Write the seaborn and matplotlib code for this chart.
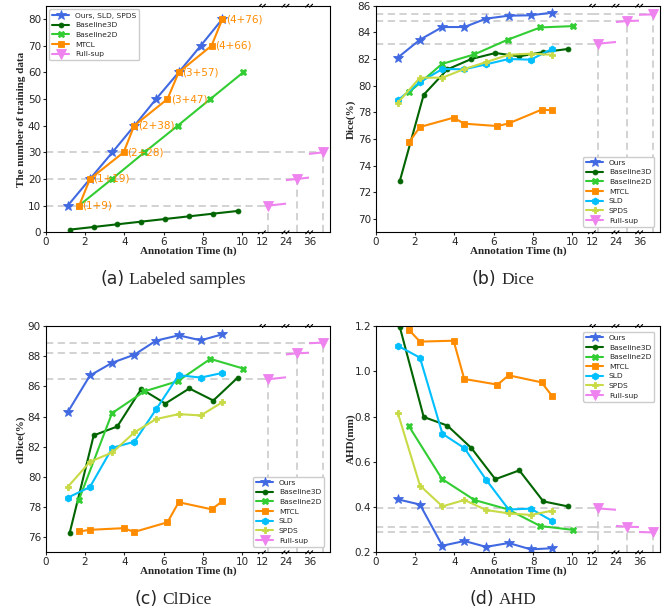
import matplotlib
matplotlib.use("Agg")
import matplotlib.pyplot as plt
import seaborn as sns

# ---- annotation time (h) of every setting ----
t_ours = [1.12, 2.25, 3.39, 4.51, 5.61, 6.76, 7.88, 8.98]   # also SLD / SPDS
t_b3d = [1.22, 2.44, 3.64, 4.86, 6.08, 7.30, 8.52, 9.76]
t_b2d = [1.69, 3.37, 5.02, 6.71, 8.37, 10.04]
t_mtcl = [1.70, 2.25, 3.96, 4.50, 6.19, 6.76, 8.43, 8.98]
t_full = [12.3, 24.55, 36.7]

# ---- (a) number of labeled training samples ----
n_ours = [10, 20, 30, 40, 50, 60, 70, 80]
n_b3d = [1, 2, 3, 4, 5, 6, 7, 8]
n_b2d = [10, 20, 30, 40, 50, 60]
n_mtcl = [10, 20, 30, 40, 50, 60, 70, 80]
n_full = [10, 20, 30]
mtcl_split = ["(1+9)", "(1+19)", "(2+28)", "(2+38)", "(3+47)", "(3+57)", "(4+66)", "(4+76)"]

# ---- (b) Dice (%) ----
dice_ours = [82.10, 83.45, 84.40, 84.40, 85.03, 85.25, 85.28, 85.48]
dice_b3d = [72.82, 79.32, 81.22, 82.00, 82.45, 82.20, 82.52, 82.75]
dice_b2d = [79.50, 81.63, 82.35, 83.45, 84.37, 84.47]
dice_mtcl = [75.77, 76.90, 77.60, 77.15, 76.97, 77.17, 78.20, 78.15]
dice_sld = [78.90, 80.27, 81.25, 81.23, 81.60, 82.00, 81.95, 82.77]
dice_spds = [78.72, 80.60, 80.60, 81.25, 81.77, 82.32, 82.40, 82.32]
dice_full = [83.15, 84.85, 85.35]

# ---- (c) clDice (%) ----
cl_ours = [84.29, 86.72, 87.57, 88.10, 89.03, 89.38, 89.05, 89.45]
cl_b3d = [76.29, 82.75, 83.34, 85.83, 84.86, 85.86, 85.06, 86.58]
cl_b2d = [78.49, 84.22, 85.67, 86.34, 87.82, 87.18]
cl_mtcl = [76.38, 76.49, 76.60, 76.35, 76.99, 78.32, 77.85, 78.38]
cl_sld = [78.62, 79.33, 81.93, 82.33, 84.47, 86.74, 86.58, 86.89]
cl_spds = [79.33, 81.00, 81.62, 82.95, 83.83, 84.16, 84.07, 84.95]
cl_full = [86.47, 88.19, 88.90]

# ---- (d) AHD (mm) ----
ahd_ours = [0.434, 0.411, 0.229, 0.250, 0.224, 0.241, 0.213, 0.218]
ahd_b3d = [1.197, 0.798, 0.760, 0.661, 0.523, 0.562, 0.425, 0.403]
ahd_b2d = [0.757, 0.524, 0.431, 0.390, 0.316, 0.299]
ahd_mtcl = [1.182, 1.131, 1.135, 0.966, 0.941, 0.982, 0.951, 0.889]
ahd_sld = [1.113, 1.060, 0.724, 0.660, 0.521, 0.389, 0.393, 0.338]
ahd_spds = [0.817, 0.495, 0.403, 0.431, 0.387, 0.372, 0.365, 0.384]
ahd_full = [0.394, 0.313, 0.288]

STY = {
    "Ours": dict(color="royalblue", marker="*", ms=7.5),
    "Baseline3D": dict(color="darkgreen", marker="o", ms=3.5),
    "Baseline2D": dict(color="limegreen", marker="X", ms=5),
    "MTCL": dict(color="darkorange", marker="s", ms=4.5),
    "SLD": dict(color="deepskyblue", marker="h", ms=5),
    "SPDS": dict(color="#c8da45", marker="P", ms=5),
    "Full-sup": dict(color="violet", marker="v", ms=6.5),
}

sns.set_style("ticks")
plt.rcParams["font.family"] = ["DejaVu Sans"]
plt.rcParams["xtick.labelsize"] = 7.5
plt.rcParams["ytick.labelsize"] = 7.5
plt.rcParams["xtick.major.size"] = 2.2
plt.rcParams["ytick.major.size"] = 2.2
plt.rcParams["xtick.major.pad"] = 1.2
plt.rcParams["ytick.major.pad"] = 1.2
plt.rcParams["axes.edgecolor"] = "black"

W, H = 664, 613
fig = plt.figure(figsize=(W / 100, H / 100), dpi=100)

SEGS = [(0, 11), (12, 13.2), (24, 25.2), (36, 37.05)]
GUIDE = dict(color="#cfcfcf", lw=1.3, linestyle=(0, (4, 2.5)), zorder=0)


def px_rect(l, t, r, b):
    return [l / W, 1 - b / H, (r - l) / W, (b - t) / H]


def draw(ax, key, x, y, label=None):
    s = STY[key]
    sns.lineplot(x=x, y=y, ax=ax, color=s["color"], marker=s["marker"], markersize=s["ms"],
                 markeredgewidth=0.6, markeredgecolor=s["color"], linewidth=1.5,
                 label=label, legend=False, sort=False)


def panel(l, t, r, b, series, full, ylim, yticks, ylabel, tag, name, loc):
    total = sum(hi - lo for lo, hi in SEGS)
    x0 = l
    axes = []
    for i, (lo, hi) in enumerate(SEGS):
        w = (r - l) * (hi - lo) / total
        ax = fig.add_axes(px_rect(x0, t, x0 + w, b))
        x0 += w
        ax.set_xlim(lo, hi)
        ax.set_ylim(*ylim)
        axes.append(ax)
    main = axes[0]
    for key, x, y, lab in series:
        draw(main, key, x, y, lab)
    draw(main, "Full-sup", t_full, full, "Full-sup")
    main.set_xlim(*SEGS[0])
    main.set_ylim(*ylim)
    main.set_xticks([0, 2, 4, 6, 8, 10])
    main.set_yticks(yticks)
    for v in full:
        main.axhline(v, **GUIDE)
    for ax, (lo, hi) in zip(axes[1:], SEGS[1:]):
        draw(ax, "Full-sup", t_full, full)
        ax.set_xlim(lo, hi)
        ax.set_ylim(*ylim)
        for tt, v in zip(t_full, full):
            if tt > lo:
                ax.hlines(v, lo, min(tt, hi), **GUIDE)
            if lo <= tt <= hi:
                ax.vlines(tt, ylim[0], v, **GUIDE)
        ax.set_xticks([lo])
        ax.set_xticklabels([str(lo)])
        ax.set_yticks([])
        ax.spines["left"].set_visible(False)
        ax.tick_params(axis="x", length=0, pad=1.2 + 2.2)
    for ax in axes[:-1]:
        ax.spines["right"].set_visible(False)
    # break marks
    d = 3.0
    for ax in axes[1:]:
        bb = ax.get_position()
        wpx, hpx = bb.width * W, bb.height * H
        for yy in (0, 1):
            for off in (-2.2, 1.8):
                ax.plot([(off - d / 2) / wpx, (off + d / 2) / wpx],
                        [yy - d / 2 / hpx, yy + d / 2 / hpx],
                        transform=ax.transAxes, color="black", lw=0.8, clip_on=False)
    leg = main.legend(loc=loc, fontsize=5.4, framealpha=1, borderpad=0.4,
                      handlelength=2.2, labelspacing=0.45)
    if loc == "lower right":
        leg.set_bbox_to_anchor(px_rect(l, t, r - 2, b - 2), transform=fig.transFigure)
    elif loc == "upper right":
        leg.set_bbox_to_anchor(px_rect(l, t + 2, r - 2, b), transform=fig.transFigure)
    leg.set_zorder(10)
    main.set_zorder(5)
    # labels
    cy = (t + b) / 2
    fig.text((l - 24.7) / W, 1 - cy / H, ylabel, rotation=90, ha="center", va="center",
             fontsize=8, fontweight="bold", family="Liberation Serif")
    fig.text(((l + r) / 2) / W, 1 - (b + 18.5) / H, "Annotation Time (h)", ha="center",
             va="center", fontsize=8, fontweight="bold", family="Liberation Serif")
    rend = fig.canvas.get_renderer()
    t1 = fig.text(0, 1 - (b + 52) / H, tag, fontsize=12.5, family="DejaVu Sans", va="baseline")
    t2 = fig.text(0, 1 - (b + 52) / H, name, fontsize=12.5, family="Liberation Serif", va="baseline")
    w1 = t1.get_window_extent(rend).width
    w2 = t2.get_window_extent(rend).width
    gap = 5
    cx = (l + r) / 2 - 15
    start = cx - (w1 + gap + w2) / 2
    t1.set_x(start / W)
    t2.set_x((start + w1 + gap) / W)
    return main


# (a)
ax_a = panel(45.7, 5.7, 330, 232.3,
             [("Ours", t_ours, n_ours, "Ours, SLD, SPDS"),
              ("Baseline3D", t_b3d, n_b3d, "Baseline3D"),
              ("Baseline2D", t_b2d, n_b2d, "Baseline2D"),
              ("MTCL", t_mtcl, n_mtcl, "MTCL")],
             n_full, (0, 85), range(0, 81, 10), "The number of training data",
             "(a)", "Labeled samples", "upper left")
for x, y, s in zip(t_mtcl, n_mtcl, mtcl_split):
    ax_a.annotate(s, (x, y), xytext=(2.5, 0), textcoords="offset points", va="center",
                  ha="left", fontsize=7.5, color="darkorange")

seven = lambda o, b3, b2, m, sl, sp: [
    ("Ours", t_ours, o, "Ours"), ("Baseline3D", t_b3d, b3, "Baseline3D"),
    ("Baseline2D", t_b2d, b2, "Baseline2D"), ("MTCL", t_mtcl, m, "MTCL"),
    ("SLD", t_ours, sl, "SLD"), ("SPDS", t_ours, sp, "SPDS")]

# (b)
panel(375.7, 5.7, 660, 232.3, seven(dice_ours, dice_b3d, dice_b2d, dice_mtcl, dice_sld, dice_spds),
      dice_full, (69, 86), range(70, 87, 2), "Dice(%)", "(b)", "Dice", "lower right")
# (c)
panel(45.7, 326, 330, 552.3, seven(cl_ours, cl_b3d, cl_b2d, cl_mtcl, cl_sld, cl_spds),
      cl_full, (75, 90), range(76, 91, 2), "clDice(%)", "(c)", "ClDice", "lower right")
# (d)
panel(375.7, 326, 660, 552.3, seven(ahd_ours, ahd_b3d, ahd_b2d, ahd_mtcl, ahd_sld, ahd_spds),
      ahd_full, (0.2, 1.2), [0.2, 0.4, 0.6, 0.8, 1.0, 1.2], "AHD(mm)", "(d)", "AHD", "upper right")

fig.savefig("out.png", dpi=100)
